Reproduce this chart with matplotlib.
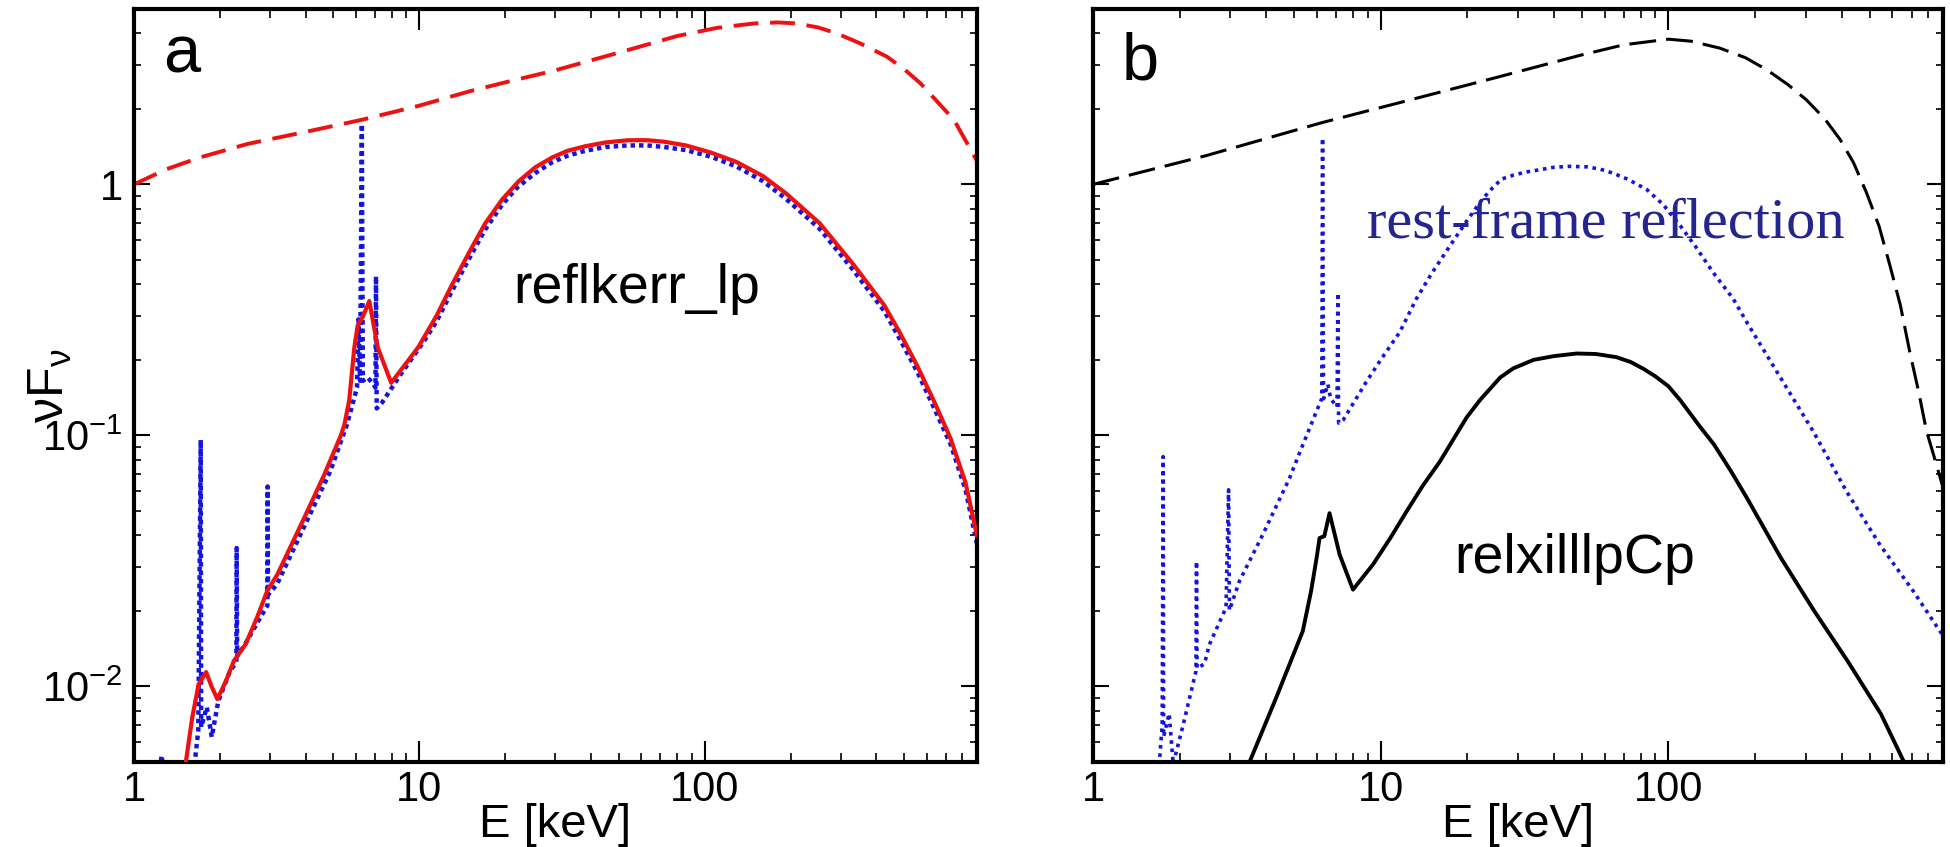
import numpy as np
import matplotlib
matplotlib.use("Agg")
import matplotlib.pyplot as plt
from matplotlib.ticker import FixedLocator, LogLocator, NullFormatter

plt.rcParams['font.family'] = ['Liberation Sans', 'DejaVu Sans']
plt.rcParams['lines.dash_joinstyle'] = 'round'
plt.rcParams['lines.solid_joinstyle'] = 'round'

"Panel a: reflkerr_lp"
E_prim_a = [1.0, 1.3, 1.7, 2.5, 4.0, 6.3, 10, 15, 20, 30, 50, 80, 110, 130, 150, 180,
            210, 250, 290, 350, 435, 500, 570, 650, 747, 820, 900]
F_prim_a = [1.0, 1.15, 1.28, 1.45, 1.62, 1.81, 2.06, 2.35, 2.55, 2.85, 3.35, 3.9,
            4.2, 4.3, 4.38, 4.42, 4.38, 4.22, 4.0, 3.65, 3.23, 2.88, 2.53, 2.15, 1.81,
            1.5, 1.24]

E_refl_a = [1.50, 1.60, 1.685, 1.79, 1.87, 1.96, 2.1, 2.24, 2.46, 2.70, 2.93, 3.18,
            3.95, 4.64, 5.31, 5.46, 5.68, 5.92, 6.08, 6.34, 6.68, 7.15, 7.97, 9.9,
            11.5, 12.97, 15, 17, 19.5, 22.3, 25.5, 29.2, 33, 38.2, 45, 54, 63, 72, 86,
            105, 129, 160, 193, 253, 332, 426, 480, 555, 640, 728, 820, 900]
F_refl_a = [0.0045, 0.0075, 0.0102, 0.0114, 0.0100, 0.0089, 0.0105, 0.01265, 0.0147,
            0.0188, 0.024, 0.0279, 0.0469, 0.0696, 0.1, 0.11, 0.138, 0.224, 0.274,
            0.297, 0.343, 0.224, 0.162, 0.224, 0.30, 0.395, 0.54, 0.698, 0.87, 1.03,
            1.17, 1.28, 1.36, 1.42, 1.47, 1.50, 1.50, 1.48, 1.43, 1.34, 1.23, 1.08,
            0.92, 0.70, 0.48, 0.33, 0.26, 0.19, 0.135, 0.097, 0.065, 0.040]

E_rest_a = [1.21, 1.25, 1.29, 1.60, 1.637, 1.68, 1.714, 1.72, 1.80, 1.873, 1.976, 2.17,
            2.285, 2.29, 2.30, 2.45, 2.77, 2.935, 2.94, 2.95, 3.17, 3.93, 4.87, 5.57,
            6.05, 6.12, 6.2, 6.29, 6.34, 6.6, 6.9, 7.02, 7.05, 7.09, 7.4, 8.6, 10.4,
            11.5, 13, 15, 17, 19.5, 22, 25.5, 29, 33, 38, 45, 54, 63, 72, 86, 105, 129,
            160, 193, 253, 332, 426, 480, 555, 640, 728, 820, 900]
F_rest_a = [0.004, 0.0053, 0.004, 0.004, 0.0051, 0.00667, 0.0959, 0.00689, 0.00826,
            0.00629, 0.00876, 0.0115, 0.0125, 0.0356, 0.0132, 0.0147, 0.0188, 0.021,
            0.0626, 0.0232, 0.0255, 0.0428, 0.0718, 0.11, 0.155, 0.29, 0.165, 1.74,
            0.165, 0.17, 0.16, 0.155, 0.43, 0.128, 0.135, 0.175, 0.238, 0.285, 0.375,
            0.51, 0.66, 0.83, 0.97, 1.11, 1.22, 1.30, 1.36, 1.41, 1.43, 1.43, 1.41,
            1.37, 1.29, 1.18, 1.03, 0.875, 0.665, 0.455, 0.313, 0.245, 0.18, 0.127,
            0.092, 0.061, 0.037]

"Panel b: relxilllpCp"
E_prim_b = [1.0, 2.46, 6.22, 11.5, 25, 49.4, 70, 100, 120, 151, 185, 220, 260, 302,
            350, 395, 440, 488, 540, 589, 640, 690, 740, 789, 850, 900]
F_prim_b = [1.0, 1.30, 1.76, 2.11, 2.66, 3.27, 3.6, 3.79, 3.72, 3.49, 3.2, 2.86, 2.5,
            2.17, 1.82, 1.51, 1.22, 0.927, 0.68, 0.474, 0.33, 0.215, 0.15, 0.104,
            0.078, 0.062]

E_refl_b = [3.45, 4.33, 5.36, 5.73, 6.0, 6.13, 6.37, 6.64, 7.2, 8.01, 9.4, 10.8, 12.3,
            14, 16.05, 19.9, 22.1, 26, 28.9, 34, 40, 48, 56, 66, 74, 82, 90, 100, 110,
            129, 144, 165, 188, 246, 321, 419, 548, 670]
F_refl_b = [0.0048, 0.009, 0.0166, 0.024, 0.033, 0.039, 0.0397, 0.049, 0.0335, 0.0243,
            0.0306, 0.039, 0.0498, 0.063, 0.0786, 0.118, 0.138, 0.17, 0.185, 0.2,
            0.207, 0.212, 0.211, 0.205, 0.196, 0.184, 0.172, 0.157, 0.138, 0.108,
            0.092, 0.072, 0.056, 0.0325, 0.02, 0.01265, 0.00776, 0.0048]

E_rest_b = [1.69, 1.74, 1.754, 1.76, 1.84, 1.90, 2.05, 2.28, 2.29, 2.30, 2.44, 2.54,
            2.90, 2.96, 2.98, 3.23, 3.89, 4.82, 5.22, 5.97, 6.15, 6.24, 6.28, 6.33,
            6.55, 6.7, 7.05, 7.1, 7.14, 7.4, 8.9, 10, 11.65, 13.3, 15, 17.4, 20, 22.5,
            24.5, 26.3, 29, 32, 40, 45, 52, 58, 64, 72, 84, 96, 110, 125, 143, 168, 187,
            231, 319, 416, 543, 709, 878, 900]
F_rest_b = [0.0045, 0.007, 0.0823, 0.0063, 0.0078, 0.0049, 0.0069, 0.0115, 0.0315,
            0.0118, 0.0123, 0.0147, 0.0206, 0.0607, 0.0201, 0.0263, 0.0402, 0.0675,
            0.085, 0.124, 0.135, 0.14, 1.53, 0.14, 0.16, 0.14, 0.13, 0.37, 0.112,
            0.115, 0.163, 0.2, 0.258, 0.35, 0.44, 0.569, 0.72, 0.87, 0.97, 1.05, 1.09,
            1.12, 1.17, 1.18, 1.175, 1.15, 1.11, 1.05, 0.955, 0.83, 0.684, 0.56, 0.446,
            0.35, 0.283, 0.19, 0.1035, 0.0598, 0.0367, 0.024, 0.0166, 0.016]

x_ticks = [1, 10, 100]
x_labels = ['1', '10', '100']
y_ticks = [0.01, 0.1, 1]
y_labels = [r'$\mathregular{10^{-2}}$', r'$\mathregular{10^{-1}}$', '1']

RED = '#ee1111'
BLUE = '#1414dc'
NAVY = '#25258f'

fig = plt.figure(figsize=(19.5, 8.47), dpi=100)
ax1 = fig.add_axes([0.0687, 0.1004, 0.4323, 0.889])
ax2 = fig.add_axes([0.5605, 0.1004, 0.4359, 0.889])

for ax in (ax1, ax2):
    ax.set_xscale('log')
    ax.set_yscale('log')
    ax.set_xlim(1, 900)
    ax.set_ylim(0.005, 5)
    ax.xaxis.set_major_locator(FixedLocator(x_ticks))
    ax.set_xticklabels(x_labels)
    ax.xaxis.set_minor_locator(LogLocator(base=10, subs=np.arange(2, 10)))
    ax.xaxis.set_minor_formatter(NullFormatter())
    ax.yaxis.set_major_locator(FixedLocator(y_ticks))
    ax.yaxis.set_minor_locator(LogLocator(base=10, subs=np.arange(2, 10)))
    ax.yaxis.set_minor_formatter(NullFormatter())
    ax.tick_params(axis='x', which='major', direction='in', top=True, length=15,
                   width=1.5, labelsize=30, pad=6)
    ax.tick_params(axis='x', which='minor', direction='in', top=True, length=6.5,
                   width=1.2)
    ax.tick_params(axis='y', which='major', direction='in', right=True, length=11.5,
                   width=1.5, labelsize=30, pad=8)
    ax.tick_params(axis='y', which='minor', direction='in', right=True, length=5,
                   width=1.2)
    for s in ax.spines.values():
        s.set_linewidth(3)
    ax.set_xlabel('E [keV]', fontsize=34)
    ax.xaxis.set_label_coords(0.5, -0.0996)
    ax.xaxis.label.set_va('baseline')

ax1.set_yticklabels(y_labels)
ax2.set_yticklabels([])

ax1.set_ylabel(r'$\mathregular{νF_ν}$', fontsize=36)
ax1.yaxis.set_label_coords(-0.0996, 0.5)
ax1.yaxis.label.set_va('center')

"Panel a curves"
ax1.plot(E_prim_a, F_prim_a, color=RED, lw=2.8, ls=(0, (6.4, 3.0)))
ax1.plot(E_rest_a, F_rest_a, color=BLUE, lw=3.2, ls=(0, (1, 0.9)), zorder=2)
ax1.plot(E_refl_a, F_refl_a, color=RED, lw=3.0, zorder=3)
ax1.text(0.0344, 0.915, 'a', fontsize=48, transform=ax1.transAxes, va='baseline')
ax1.text(0.4496, 0.6096, 'reflkerr_lp', fontsize=40, transform=ax1.transAxes,
         va='baseline')

"Panel b curves"
ax2.plot(E_prim_b, F_prim_b, color='black', lw=2.2, ls=(0, (8.8, 3.3)))
ax2.plot(E_rest_b, F_rest_b, color=BLUE, lw=2.6, ls=(0, (1, 1.3)))
ax2.plot(E_refl_b, F_refl_b, color='black', lw=2.8)
ax2.text(0.0341, 0.906, 'b', fontsize=48, transform=ax2.transAxes, va='baseline')
ax2.text(0.322, 0.697, 'rest-frame reflection', fontsize=42, color=NAVY,
         family=['Liberation Serif', 'DejaVu Serif'], transform=ax2.transAxes,
         va='baseline')
ax2.text(0.4247, 0.251, 'relxilllpCp', fontsize=40, transform=ax2.transAxes,
         va='baseline')

plt.savefig('out.png', dpi=100)
